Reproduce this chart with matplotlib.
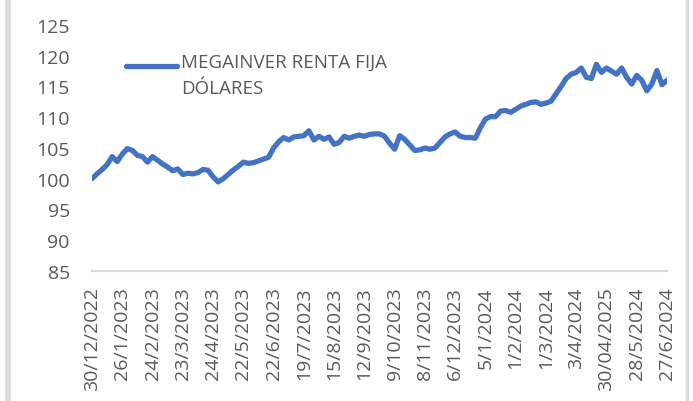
import matplotlib.pyplot as plt
from matplotlib.lines import Line2D

plt.rcParams['font.family'] = ['Open Sans', 'DejaVu Sans']

serie = 'MEGAINVER RENTA FIJA\nDÓLARES'

valores = [100.0, 100.8, 101.5, 102.3, 103.6, 102.8, 104.0, 104.9, 104.6, 103.8,
           103.6, 102.7, 103.6, 103.0, 102.4, 101.9, 101.3, 101.6, 100.7, 100.9,
           100.8, 101.0, 101.5, 101.4, 100.3, 99.5, 100.0, 100.7, 101.4, 102.0,
           102.7, 102.5, 102.6, 102.9, 103.2, 103.5, 105.0, 106.0, 106.7, 106.3,
           106.8, 106.9, 107.0, 107.8, 106.3, 106.9, 106.4, 106.8, 105.6, 105.9,
           106.9, 106.6, 106.9, 107.1, 106.9, 107.2, 107.3, 107.3, 106.9, 105.8,
           104.8, 107.0, 106.4, 105.5, 104.6, 104.7, 105.0, 104.8, 105.0, 105.9,
           106.8, 107.3, 107.6, 106.9, 106.7, 106.7, 106.6, 108.3, 109.7, 110.1,
           110.1, 111.0, 111.1, 110.8, 111.3, 111.8, 112.1, 112.4, 112.5, 112.1,
           112.3, 112.6, 113.8, 115.0, 116.3, 117.0, 117.3, 118.0, 116.5, 116.3,
           118.6, 117.3, 118.0, 117.5, 117.0, 118.0, 116.5, 115.4, 116.8, 116.0,
           114.3, 115.4, 117.6, 115.3, 116.0]

fechas = ['30/12/2022', '26/1/2023', '24/2/2023', '23/3/2023', '24/4/2023',
          '22/5/2023', '22/6/2023', '19/7/2023', '15/8/2023', '12/9/2023',
          '9/10/2023', '8/11/2023', '6/12/2023', '5/1/2024', '1/2/2024',
          '1/3/2024', '3/4/2024', '30/04/2025', '28/5/2024', '27/6/2024']
paso = 6  # una fecha cada 6 puntos

gris = '#595959'
fig = plt.figure(figsize=(6.93, 4.02), dpi=100)
ax = fig.add_axes([92/693, 1-272/402, 575/693, 246/402])

ax.plot(range(len(valores)), valores, color='#4472C4', lw=3.8,
        solid_capstyle='round', label=serie)

ax.set_xlim(0, len(valores)-1)
ax.set_ylim(85, 125)
ax.set_yticks(range(85, 126, 5))
ax.set_xticks(range(0, len(valores), paso))
ax.set_xticklabels(fechas, rotation=90)
ax.tick_params(length=0, labelsize=14, labelcolor=gris)
ax.tick_params(axis='y', pad=16)
ax.tick_params(axis='x', pad=11)

for s in ['top', 'right', 'left']:
    ax.spines[s].set_visible(False)
ax.spines['bottom'].set_color('#D9D9D9')
ax.spines['bottom'].set_linewidth(1.5)

leg = ax.legend(loc='upper left', bbox_to_anchor=(126/693, 1-54/402),
                bbox_transform=fig.transFigure, frameon=False, fontsize=13.5,
                handlelength=2.7, handletextpad=0.25, borderaxespad=0,
                borderpad=0)
for t in leg.get_texts():
    t.set_color(gris)
    t.set_linespacing(1.55)
# la linea de la leyenda va a la altura de la primera linea de texto
for h in leg.legend_handles:
    h.set_ydata(h.get_ydata() + 7)

# marco gris del grafico
fig.add_artist(Line2D([7.5/693, 7.5/693], [0, 1], color='#D9D9D9', lw=4))
fig.add_artist(Line2D([686.5/693, 686.5/693], [0, 1], color='#D9D9D9', lw=2.5))

fig.savefig('out.png', dpi=100)
